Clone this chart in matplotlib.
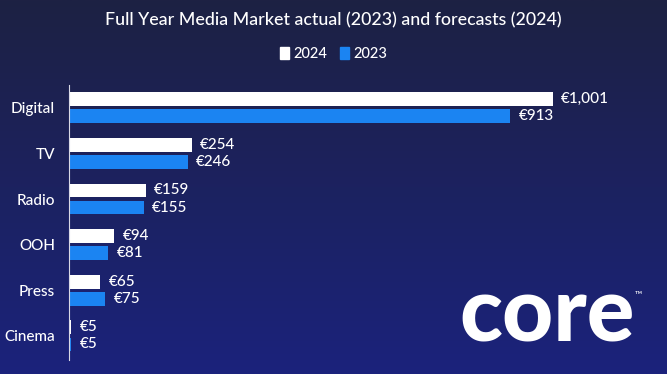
import matplotlib

matplotlib.use("Agg")
import matplotlib.pyplot as plt
import numpy as np
from matplotlib.colors import LinearSegmentedColormap
from matplotlib.patches import Patch

plt.rcParams["font.family"] = ["Lato", "DejaVu Sans"]

# data
categories = ["Digital", "TV", "Radio", "OOH", "Press", "Cinema"]
values_2024 = [1001, 254, 159, 94, 65, 5]
values_2023 = [913, 246, 155, 81, 75, 5]
series_labels = ["2024", "2023"]
title = "Full Year Media Market actual (2023) and forecasts (2024)"

WHITE = "#ffffff"
BLUE = "#1b84f2"
BG_TOP = "#1d2143"
BG_BOTTOM = "#1b237c"

fig = plt.figure(figsize=(6.67, 3.74), dpi=100)

# gradient background
bg = fig.add_axes([0, 0, 1, 1], zorder=0)
cmap = LinearSegmentedColormap.from_list("bg", [BG_TOP, BG_BOTTOM])
bg.imshow(np.linspace(0, 1, 256).reshape(-1, 1), aspect="auto", cmap=cmap,
          extent=[0, 1, 0, 1], origin="upper")
bg.set_axis_off()

ax = fig.add_axes([69 / 667, 14 / 374, 598 / 667, 275 / 374], zorder=1)
ax.set_facecolor("none")

y = np.arange(len(categories))
height = 0.30
offset = 0.187
bars_24 = ax.barh(y - offset, values_2024, height=height, color=WHITE, label=series_labels[0])
bars_23 = ax.barh(y + offset, values_2023, height=height, color=BLUE, label=series_labels[1])

for bars in (bars_24, bars_23):
    for bar in bars:
        w = bar.get_width()
        ax.annotate(f"€{w:,.0f}", (w, bar.get_y() + bar.get_height() / 2),
                    xytext=(6, 0), textcoords="offset points", va="center", ha="left",
                    color=WHITE, fontsize=11, fontweight="medium")

ax.set_xlim(0, 1237)
ax.set_ylim(5.53, -0.5)
ax.set_yticks(y)
ax.set_yticklabels(categories, color=WHITE, fontsize=11, fontweight="medium")
ax.tick_params(axis="y", length=0, pad=10)
ax.set_xticks([])
for side in ("top", "right", "bottom"):
    ax.spines[side].set_visible(False)
ax.spines["left"].set_color("#d9d9e6")
ax.spines["left"].set_linewidth(0.8)

fig.text(0.5, 1 - 20 / 374, title, ha="center", va="center", color=WHITE,
         fontsize=12.8, fontweight="medium")

handles = [Patch(color=WHITE), Patch(color=BLUE)]
fig.legend(handles, series_labels, loc="center", bbox_to_anchor=(0.5, 1 - 54 / 374),
           ncol=2, frameon=False, handlelength=0.6, handleheight=0.9,
           handletextpad=0.3, columnspacing=0.9, labelcolor=WHITE,
           prop={"size": 10.5, "weight": "medium"})

# logo
fig.text(459 / 667, 1 - 341 / 374, "core", ha="left", va="baseline", color=WHITE,
         fontsize=64, fontweight="black")
fig.text(635 / 667, 1 - 295 / 374, "™", ha="left", va="center", color=WHITE, fontsize=7)

fig.savefig("out.png", dpi=100)
